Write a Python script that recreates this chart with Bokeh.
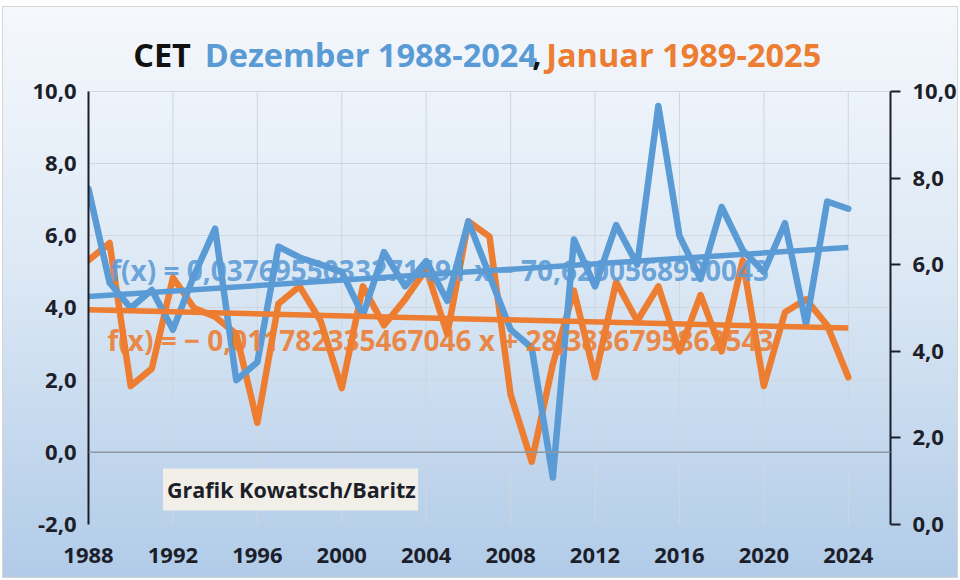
from bokeh.plotting import figure
from bokeh.models import Range1d, LinearAxis, FixedTicker, Label, BoxAnnotation, Span
from bokeh.embed import file_html
from bokeh.resources import INLINE

# ---------------- data ----------------
years = list(range(1988, 2025))
# CET December 1988-2024 (left axis)
dezember = [7.3, 4.7, 4.0, 4.5, 3.4, 4.9, 6.2, 2.0, 2.5, 5.7,
            5.4, 5.2, 5.0, 3.8, 5.55, 4.6, 5.3, 4.2, 6.4, 4.9,
            3.4, 2.9, -0.7, 5.9, 4.6, 6.3, 5.2, 9.6, 6.0, 4.8,
            6.8, 5.6, 5.0, 6.35, 3.55, 6.95, 6.75]
# CET January 1989-2025 (right axis), plotted at the preceding December's year
januar = [6.1, 6.5, 3.2, 3.6, 5.7, 5.0, 4.8, 4.4, 2.35, 5.1,
          5.5, 4.7, 3.15, 5.5, 4.6, 5.2, 5.9, 4.4, 7.0, 6.65,
          3.0, 1.45, 3.7, 5.4, 3.4, 5.6, 4.7, 5.5, 4.0, 5.3,
          4.0, 6.1, 3.2, 4.9, 5.2, 4.6, 3.4]

dez_slope, dez_intercept = 0.0376955033271491, -70.6200568990043
jan_slope, jan_intercept = -0.011782335467046, 28.3836795862543

left_ticks = [-2, 0, 2, 4, 6, 8, 10]
left_labels = ["-2,0", "0,0", "2,0", "4,0", "6,0", "8,0", "10,0"]
right_ticks = [0, 2, 4, 6, 8, 10]
right_labels = ["0,0", "2,0", "4,0", "6,0", "8,0", "10,0"]
x_ticks = [1988, 1992, 1996, 2000, 2004, 2008, 2012, 2016, 2020, 2024]
x_labels = [str(t) for t in x_ticks]

title_parts = ["CET", "Dezember 1988-2024", ",", "Januar 1989-2025"]
eq_dez = "f(x) = 0,0376955033271491 x \u2212 70,6200568990043"
eq_jan = "f(x) = \u2212 0,011782335467046 x + 28,3836795862543"
credit = "Grafik Kowatsch/Baritz"

BLUE = "#5b9bd5"
ORANGE = "#ed7d31"
DARK = "#1c1f2a"
FONT = "Open Sans"

# axis extents; the frame reaches up into the title zone
L_MIN, L_MAX, L_TOP = -2, 10, 11.69
R_MIN, R_MAX = 0, 10
R_TOP = (L_TOP - L_MIN) * (R_MAX - R_MIN) / (L_MAX - L_MIN)

# ---------------- figure ----------------
p = figure(width=956, height=572,
           x_range=Range1d(1988, 2026), y_range=Range1d(L_MIN, L_TOP),
           output_backend="svg", toolbar_location=None,
           min_border_left=85, min_border_right=62,
           min_border_top=23, min_border_bottom=55)
p.extra_y_ranges = {"r": Range1d(R_MIN, R_TOP)}

p.background_fill_alpha = 0
p.border_fill_alpha = 0
p.outline_line_color = None
p.styles = {"background": "linear-gradient(to bottom, #f5f8fc 0%, #dde9f5 45%, #b1cbe8 100%)",
            "border": "1px solid #d6d6d6",
            "margin-left": "2px", "margin-top": "6px"}

# grids
p.xgrid.visible = False
p.ygrid.ticker = FixedTicker(ticks=left_ticks)
p.ygrid.grid_line_color = "#cfd6de"
p.ygrid.grid_line_width = 1
p.segment(x0=x_ticks, y0=L_MIN, x1=x_ticks, y1=L_MAX, line_color="#cfd6de", line_width=1)

p.add_layout(Span(location=0, dimension="width", line_color="#8e98a3", line_width=1.5))

# axes
xa = p.xaxis[0]
xa.ticker = FixedTicker(ticks=x_ticks)
xa.major_label_overrides = dict(zip(x_ticks, x_labels))
xa.axis_line_color = None
xa.major_tick_line_color = None
xa.minor_tick_line_color = None
xa.major_label_standoff = 17

ya = p.yaxis[0]
ya.ticker = FixedTicker(ticks=left_ticks)
ya.bounds = (L_MIN, L_MAX)
ya.major_label_overrides = dict(zip(left_ticks, left_labels))
ya.axis_line_color = DARK
ya.axis_line_width = 2
ya.major_tick_line_color = None
ya.minor_tick_line_color = None
ya.major_label_standoff = 6

ra = LinearAxis(y_range_name="r", ticker=FixedTicker(ticks=right_ticks), bounds=(R_MIN, R_MAX))
ra.major_label_overrides = dict(zip(right_ticks, right_labels))
ra.axis_line_color = DARK
ra.axis_line_width = 2
ra.major_tick_line_color = DARK
ra.major_tick_line_width = 2
ra.major_tick_in = 0
ra.major_tick_out = 10
ra.minor_tick_line_color = None
ra.major_label_standoff = 12
p.add_layout(ra, "right")

for ax in (xa, ya, ra):
    ax.major_label_text_font = FONT
    ax.major_label_text_font_style = "bold"
    ax.major_label_text_font_size = "22px"
    ax.major_label_text_color = DARK

# series
p.line(years, januar, y_range_name="r", line_color=ORANGE, line_width=6.5,
       line_join="round", line_cap="round")
p.line(years, dezember, line_color=BLUE, line_width=6.5,
       line_join="round", line_cap="round")

tx = [years[0], years[-1]]
p.line(tx, [jan_slope * x + jan_intercept for x in tx], y_range_name="r",
       line_color=ORANGE, line_width=5.5)
p.line(tx, [dez_slope * x + dez_intercept for x in tx],
       line_color=BLUE, line_width=5.5)

# equations
p.add_layout(Label(x=1989.03, y=5.04, text=eq_dez, text_color=BLUE, text_alpha=0.9,
                   text_font=FONT, text_font_style="bold", text_font_size="28px",
                   text_baseline="middle"))
p.add_layout(Label(x=1988.9, y=3.10, text=eq_jan, text_color=ORANGE, text_alpha=0.9,
                   text_font=FONT, text_font_style="bold", text_font_size="28px",
                   text_baseline="middle"))

# credit box
p.add_layout(BoxAnnotation(left=1991.53, right=2003.62, top=-0.45, bottom=-1.61,
                           fill_color="#f2eee8", fill_alpha=1, line_color=None))
p.add_layout(Label(x=1991.72, y=-1.03, text=credit, text_color=DARK,
                   text_font=FONT, text_font_style="bold", text_font_size="21.5px",
                   text_baseline="middle"))

# title pieces
title_x = [1990.117, 1993.503, 2009.026, 2009.685]
title_c = ["#111111", BLUE, "#111111", ORANGE]
for t, xx, c in zip(title_parts, title_x, title_c):
    p.add_layout(Label(x=xx, y=11.03, text=t, text_color=c, text_font=FONT,
                       text_font_style="bold", text_font_size="32.5px",
                       text_baseline="alphabetic"))

open("out.html", "w").write(file_html(p, INLINE))
